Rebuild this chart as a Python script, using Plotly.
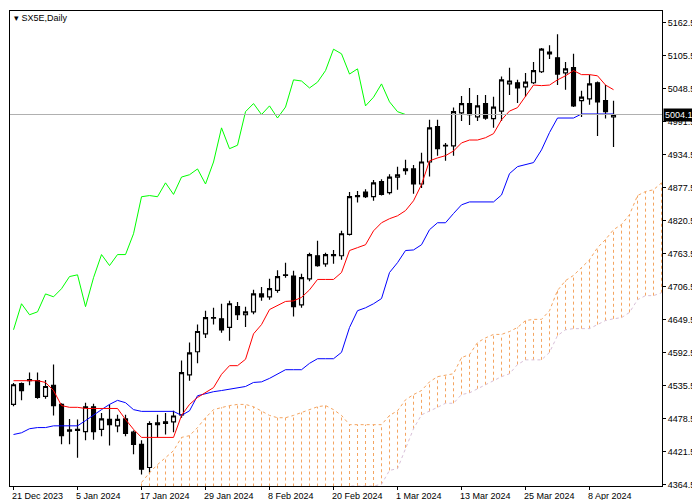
import plotly.graph_objects as go

# daily OHLC, SX5E, 21 Dec 2023 .. 12 Apr 2024 (bar index = position)
opens = [4503, 4539, 4546, 4544, 4517, 4536, 4503, 4457, 4458, 4456,
         4499, 4460, 4477, 4466, 4478, 4455, 4434, 4394, 4468, 4473,
         4473, 4485, 4554, 4594, 4625, 4652, 4651, 4636, 4672, 4658,
         4663, 4694, 4689, 4700, 4726, 4725, 4675, 4720, 4760, 4746,
         4760, 4760, 4797, 4862, 4870, 4862, 4888, 4869, 4896, 4907,
         4910, 4884, 4922, 4983, 4950, 4950, 5007, 5023, 5000, 5023,
         4997, 5010, 5057, 5059, 5052, 5059, 5078, 5112, 5102, 5076,
         5085, 5028, 5031, 5059, 5028, 5000]
highs = [4540, 4541, 4558, 4558, 4545, 4572, 4505, 4478, 4477, 4506,
         4504, 4488, 4503, 4485, 4485, 4458, 4441, 4474, 4485, 4488,
         4492, 4579, 4610, 4641, 4665, 4670, 4677, 4682, 4680, 4672,
         4701, 4706, 4720, 4735, 4748, 4734, 4729, 4765, 4786, 4765,
         4770, 4803, 4870, 4872, 4875, 4891, 4892, 4901, 4914, 4926,
         4917, 4938, 4995, 4995, 4955, 5016, 5036, 5050, 5038, 5038,
         5035, 5070, 5085, 5064, 5076, 5095, 5119, 5124, 5143, 5095,
         5109, 5045, 5073, 5061, 5055, 5028]
lows = [4500, 4510, 4536, 4513, 4513, 4484, 4434, 4434, 4411, 4441,
        4442, 4448, 4432, 4455, 4448, 4417, 4382, 4385, 4446, 4451,
        4455, 4480, 4544, 4574, 4618, 4641, 4627, 4613, 4649, 4637,
        4659, 4682, 4684, 4696, 4722, 4655, 4670, 4716, 4741, 4741,
        4746, 4753, 4795, 4852, 4860, 4855, 4864, 4866, 4874, 4900,
        4867, 4877, 4897, 4933, 4924, 4933, 4993, 4986, 4993, 4995,
        4981, 4993, 5038, 5024, 5035, 5057, 5076, 5100, 5055, 5047,
        5017, 5000, 5021, 4967, 4997, 4948]
closes = [4537, 4527, 4544, 4515, 4534, 4501, 4449, 4459, 4460, 4499,
          4456, 4478, 4468, 4477, 4453, 4434, 4391, 4470, 4471, 4470,
          4483, 4558, 4592, 4629, 4653, 4653, 4632, 4677, 4658, 4663,
          4694, 4689, 4703, 4724, 4727, 4672, 4722, 4762, 4743, 4762,
          4762, 4798, 4862, 4864, 4862, 4886, 4866, 4896, 4900, 4910,
          4884, 4922, 4981, 4945, 4951, 5009, 5023, 5004, 5019, 4998,
          5017, 5064, 5062, 5050, 5060, 5080, 5117, 5109, 5074, 5083,
          5019, 5034, 5057, 5026, 5009, 5004.1]

tenkan = [4544, 4544, 4544, 4544, 4541, 4527, 4501, 4498, 4498, 4496,
          4496, 4496, 4496, 4496, 4477, 4460, 4446, 4446, 4446, 4446,
          4446, 4484, 4503, 4515, 4523, 4532, 4555, 4570, 4570, 4581,
          4625, 4641, 4667, 4674, 4681, 4682, 4688, 4701, 4719, 4719,
          4719, 4731, 4769, 4774, 4779, 4803, 4817, 4824, 4829, 4838,
          4855, 4883, 4924, 4929, 4933, 4941, 4955, 4960, 4960, 4964,
          4971, 4995, 5010, 5016, 5036, 5055, 5054, 5055, 5064, 5071,
          5080, 5073, 5073, 5071, 5055, 5047]
kijun = [4451, 4454, 4461, 4463, 4463, 4466, 4466, 4466, 4466, 4475,
         4485, 4494, 4503, 4510, 4506, 4494, 4491, 4491, 4491, 4491,
         4491, 4484, 4492, 4518, 4522, 4525, 4527, 4529, 4532, 4534,
         4541, 4542, 4548, 4555, 4563, 4563, 4563, 4574, 4582, 4582,
         4582, 4593, 4636, 4665, 4670, 4677, 4686, 4731, 4748, 4769,
         4770, 4779, 4805, 4817, 4817, 4833, 4848, 4853, 4853, 4853,
         4853, 4865, 4902, 4914, 4917, 4921, 4943, 4973, 4998, 4998,
         4998, 5005, 5005, 5005, 5005, 5005]

# cloud (already shifted 26 bars forward), bars 16 .. 81
cloud_start = 16
span_a = [4368, 4385, 4399, 4411, 4423, 4446, 4449, 4463, 4480, 4494,
          4498, 4501, 4503, 4503, 4499, 4492, 4484, 4480, 4480, 4484,
          4489, 4494, 4499, 4501, 4494, 4484, 4468, 4468, 4468, 4468,
          4468, 4484, 4492, 4511, 4520, 4527, 4542, 4551, 4553, 4556,
          4584, 4589, 4610, 4618, 4624, 4624, 4629, 4636, 4648, 4650,
          4650, 4665, 4700, 4717, 4726, 4739, 4753, 4774, 4788, 4805,
          4814, 4831, 4864, 4871, 4874, 4886]
span_b = [4330, 4330, 4330, 4330, 4330, 4330, 4330, 4330, 4330, 4330,
          4330, 4330, 4330, 4330, 4330, 4330, 4330, 4330, 4330, 4330,
          4330, 4330, 4330, 4330, 4330, 4330, 4362, 4362, 4362, 4362,
          4365, 4389, 4392, 4428, 4461, 4485, 4491, 4498, 4505, 4505,
          4520, 4523, 4530, 4537, 4544, 4551, 4556, 4572, 4580, 4580,
          4580, 4593, 4622, 4632, 4634, 4634, 4634, 4641, 4648, 4651,
          4653, 4662, 4684, 4691, 4691, 4696]

tick_pos = [0, 8, 16, 24, 32, 40, 48, 56, 64, 72]
tick_text = ["21 Dec 2023", "5 Jan 2024", "17 Jan 2024", "29 Jan 2024", "8 Feb 2024",
             "20 Feb 2024", "1 Mar 2024", "13 Mar 2024", "25 Mar 2024", "8 Apr 2024"]
price_ticks = [5162.5, 5105.5, 5048.5, 4991.5, 4934.5, 4877.5, 4820.5, 4763.5,
               4706.5, 4649.5, 4592.5, 4535.5, 4478.5, 4421.5, 4364.5]
last_price = 5004.1

idx = list(range(len(closes)))
cidx = list(range(cloud_start, cloud_start + len(span_a)))

# hatch lines between spans
hx, hy = [], []
for i, a, b in zip(cidx, span_a, span_b):
    hx += [i, i, None]
    hy += [b, a, None]

fig = go.Figure()
fig.add_trace(go.Scatter(x=hx, y=hy, mode="lines",
                         line=dict(color="#f4a460", width=1, dash="3px,3px")))
fig.add_trace(go.Scatter(x=cidx, y=span_a, mode="lines",
                         line=dict(color="#f4a460", width=1, dash="3px,3px")))
fig.add_trace(go.Scatter(x=cidx, y=span_b, mode="lines",
                         line=dict(color="#d8bfd8", width=1, dash="3px,3px")))
fig.add_trace(go.Scatter(x=idx[:len(closes) - 26], y=closes[26:], mode="lines",
                         line=dict(color="#00ff00", width=1)))
fig.add_trace(go.Scatter(x=idx, y=kijun, mode="lines", line=dict(color="#0000ff", width=1)))
fig.add_trace(go.Scatter(x=idx, y=tenkan, mode="lines", line=dict(color="#ff0000", width=1)))
fig.add_trace(go.Candlestick(
    x=idx, open=opens, high=highs, low=lows, close=closes, whiskerwidth=0,
    increasing=dict(line=dict(color="black", width=1.2), fillcolor="white"),
    decreasing=dict(line=dict(color="black", width=1.2), fillcolor="black")))

fig.add_hline(y=last_price, line=dict(color="#b0b0b0", width=1))

for p, t in zip(tick_pos, tick_text):
    fig.add_annotation(x=p, y=0, yref="paper", yanchor="top", xanchor="left",
                       text=t, showarrow=False, yshift=-3, xshift=-4,
                       font=dict(size=9, color="black"))
fig.add_annotation(x=1, xref="paper", y=last_price, xanchor="left", text=f"{last_price:.1f}",
                   showarrow=False, bgcolor="black", font=dict(size=9, color="white"),
                   borderpad=1, xshift=1)
fig.add_annotation(x=0, y=1, xref="paper", yref="paper", xanchor="left", yanchor="top",
                   text="▾ SX5E,Daily", showarrow=False, font=dict(size=9, color="black"),
                   xshift=2)

fig.update_layout(
    width=700, height=500, showlegend=False,
    plot_bgcolor="white", paper_bgcolor="white",
    margin=dict(l=2, r=46, t=3, b=22),
    font=dict(family="Liberation Sans", size=9, color="black"),
    xaxis=dict(range=[-0.44, 81.06], rangeslider=dict(visible=False), showgrid=False,
               zeroline=False, tickvals=tick_pos, ticktext=[""] * len(tick_pos),
               ticks="outside", ticklen=3, tickcolor="black",
               showline=True, linecolor="black", mirror=True),
    yaxis=dict(range=[4362, 5183], side="right", showgrid=False, zeroline=False,
               tickvals=price_ticks, ticktext=[f"{v:.1f}" for v in price_ticks],
               ticks="outside", ticklen=3, tickcolor="black",
               showline=True, linecolor="black", mirror=True),
)

fig.write_html("out.html")
